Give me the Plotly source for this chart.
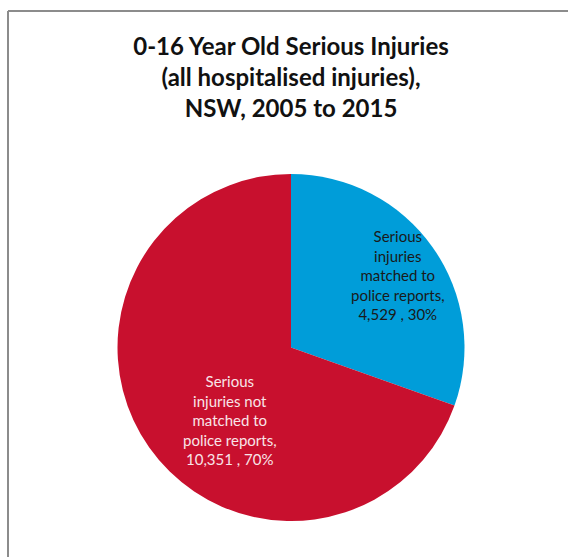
import plotly.graph_objects as go

# Serious injuries among 0-16 year olds, NSW 2005-2015
categories = [
    "Serious<br>injuries<br>matched to<br>police reports,",
    "Serious<br>injuries not<br>matched to<br>police reports,",
]
values = [4529, 10351]
colors = ["#009DD9", "#C8102E"]
text_colors = ["#1a1a1a", "#F8E4E8"]

title_text = "0-16 Year Old Serious Injuries<br>(all hospitalised injuries),<br>NSW, 2005 to 2015"

W, H = 568, 557
total = sum(values)

fig = go.Figure(
    go.Pie(
        labels=categories,
        values=values,
        sort=False,
        direction="clockwise",
        rotation=0,
        marker=dict(colors=colors, line=dict(width=0)),
        textinfo="none",
        hoverinfo="label+value+percent",
        showlegend=False,
        domain=dict(x=[117 / W, 465 / W], y=[36 / H, 383 / H]),
    )
)

# Slice labels: category, count and share
label_pos = [(398, 275), (230, 420)]
for cat, val, tc, (px, py) in zip(categories, values, text_colors, label_pos):
    fig.add_annotation(
        text=f"{cat}<br>{val:,} , {round(100 * val / total)}%",
        x=px / W, y=1 - py / H, xref="paper", yref="paper",
        xanchor="center", yanchor="middle", showarrow=False,
        font=dict(family="Lato", size=15, color=tc),
    )

# Chart frame (top and left edges)
frame = dict(type="line", xref="paper", yref="paper",
             line=dict(color="#8c8c8c", width=2))
fig.add_shape(**frame, x0=8 / W, y0=1 - 11 / H, x1=1, y1=1 - 11 / H)
fig.add_shape(**frame, x0=8 / W, y0=1 - 11 / H, x1=8 / W, y1=0)

fig.update_layout(
    width=W,
    height=H,
    margin=dict(l=0, r=0, t=0, b=0),
    paper_bgcolor="white",
    plot_bgcolor="white",
    title=dict(
        text="<b>" + title_text + "</b>",
        x=291 / W,
        xanchor="center",
        y=1 - 55 / H,
        yanchor="top",
        font=dict(family="Lato", size=24, color="#111111"),
    ),
)

fig.write_html("out.html")
